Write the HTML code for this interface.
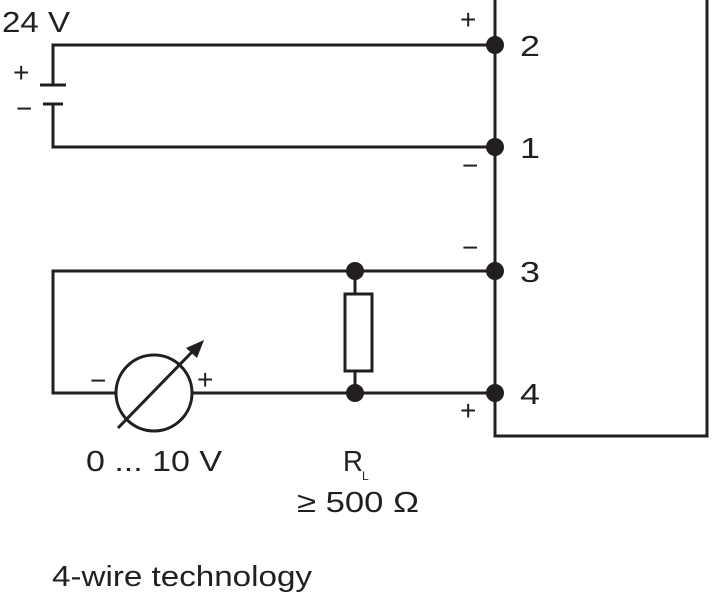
<!DOCTYPE html><html><head><style>body{margin:0;background:#fff}svg{display:block}text{font-family:"Liberation Sans",sans-serif;fill:#231f20}</style></head><body>
<svg width="712" height="600" viewBox="0 0 712 600" xmlns="http://www.w3.org/2000/svg">
<g stroke="#231f20" stroke-width="3" fill="none">
<rect x="495" y="-5" width="212" height="441"/>
<polyline points="495,45 53,45 53,85"/>
<line x1="40" y1="85" x2="66" y2="85"/>
<line x1="43" y1="104" x2="63" y2="104"/>
<polyline points="53,104 53,147 495,147"/>
<polyline points="495,271 53,271 53,393 116,393"/>
<line x1="192" y1="393" x2="495" y2="393"/>
<circle cx="154" cy="393" r="38"/>
<line x1="118" y1="428" x2="192" y2="352"/>
<line x1="355" y1="271" x2="355" y2="294"/>
<line x1="355" y1="371" x2="355" y2="393"/>
<rect x="345" y="294" width="27" height="77"/>
</g>
<polygon points="204,340 186,348 197,358" fill="#231f20"/>
<g fill="#231f20">
<circle cx="495" cy="45" r="9"/><circle cx="495" cy="147" r="9"/>
<circle cx="495" cy="271" r="9"/><circle cx="495" cy="393" r="9"/>
<circle cx="355" cy="271" r="9"/><circle cx="355" cy="393" r="9"/>
</g>
<g font-size="29">
<text x="2" y="32" textLength="68" lengthAdjust="spacingAndGlyphs">24 V</text>
<text x="520" y="56" textLength="20" lengthAdjust="spacingAndGlyphs">2</text>
<text x="520" y="158" textLength="20" lengthAdjust="spacingAndGlyphs">1</text>
<text x="520" y="282" textLength="20" lengthAdjust="spacingAndGlyphs">3</text>
<text x="520" y="404" textLength="20" lengthAdjust="spacingAndGlyphs">4</text>
<text x="86" y="471" textLength="136" lengthAdjust="spacingAndGlyphs">0 ... 10 V</text>
<text x="343" y="471" textLength="20" lengthAdjust="spacingAndGlyphs">R</text>
<text x="297" y="512" textLength="122" lengthAdjust="spacingAndGlyphs">≥ 500 Ω</text>
<text x="52" y="586" textLength="260" lengthAdjust="spacingAndGlyphs">4-wire technology</text>
</g>
<g font-size="28">
<text x="13" y="82">+</text><text x="16" y="118">−</text>
<text x="460" y="29">+</text><text x="462" y="175">−</text>
<text x="462" y="257">−</text><text x="460" y="420">+</text>
<text x="90" y="390">−</text><text x="197" y="389">+</text>
</g>
<text x="362" y="480" font-size="12">L</text>
</svg></body></html>
